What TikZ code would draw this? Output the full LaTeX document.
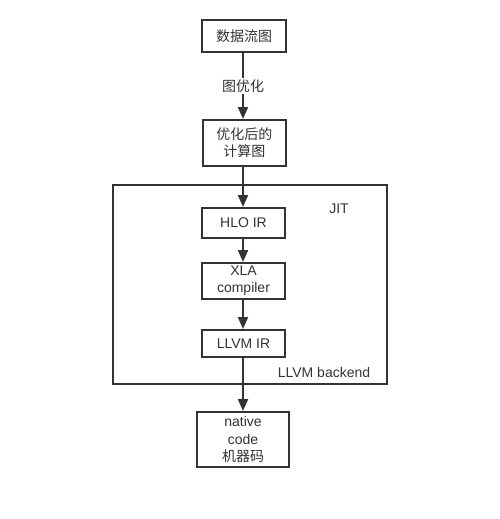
\documentclass[tikz,border=0pt]{standalone}
\usepackage{fontspec}
\setmainfont{Liberation Sans}
\newfontfamily\cjk{Noto Sans CJK SC}
\usetikzlibrary{arrows.meta}
\definecolor{ln}{HTML}{333333}
\begin{document}
\begin{tikzpicture}[x=0.75pt,y=-0.75pt,
  box/.style={draw=ln,line width=1.5pt,fill=white,inner sep=0pt,align=center,
    font=\fontsize{10.5pt}{12.8pt}\selectfont,text=ln},
  conn/.style={draw=ln,line width=1.5pt,-{Triangle[width=7.5pt,length=9pt]}},
  lbl/.style={font=\fontsize{10.5pt}{12.8pt}\selectfont,text=ln,inner sep=1pt}]
\useasboundingbox (0,0) rectangle (500,519);
\draw[draw=ln,line width=1.5pt] (113,185) rectangle (387,384);
\node[box,minimum width=63pt,minimum height=24pt] (dfg) at (244,36) {\cjk 数据流图};
\node[box,minimum width=62.25pt,minimum height=34.5pt] (opt) at (244.5,143) {\cjk 优化后的\\\cjk 计算图};
\node[box,minimum width=62.25pt,minimum height=22.5pt] (hlo) at (243.5,223) {HLO IR};
\node[box,minimum width=62.25pt,minimum height=27pt] (xla) at (243.5,281) {XLA\\compiler};
\node[box,minimum width=62.25pt,minimum height=20.25pt] (llvm) at (243.5,343.5) {LLVM IR};
\node[box,minimum width=69pt,minimum height=41.25pt] (nat) at (243,439.5) {native\\code\\\cjk 机器码};
\node[lbl] (jit) at (339,209) {JIT};
\node[lbl] (be) at (324,372) {LLVM backend};
\draw[conn] (dfg.south -| 243,0) -- node[lbl,fill=white] {\cjk 图优化} (opt.north -| 243,0);
\draw[conn] (opt.south -| 243,0) -- (hlo.north -| 243,0);
\draw[conn] (hlo.south -| 243,0) -- (xla.north -| 243,0);
\draw[conn] (xla.south -| 243,0) -- (llvm.north -| 243,0);
\draw[conn] (llvm.south -| 243,0) -- (nat.north -| 243,0);
\end{tikzpicture}
\end{document}
